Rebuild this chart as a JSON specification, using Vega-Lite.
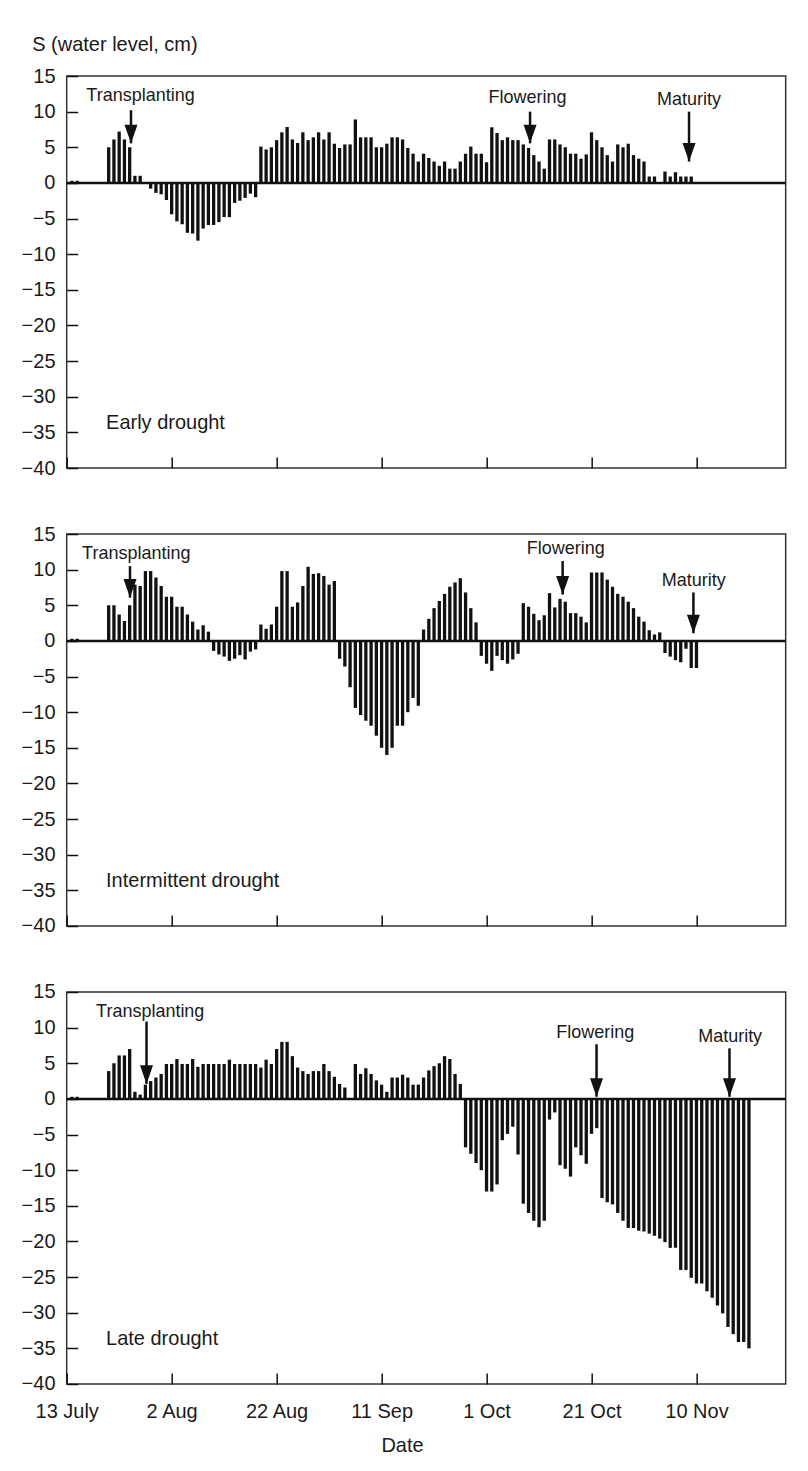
{
  "$schema": "https://vega.github.io/schema/vega-lite/v6.json",
  "background": "white",
  "padding": {"left": 19.7, "top": 33, "right": 10, "bottom": 5},
  "config": {
    "font": "Liberation Sans",
    "view": {"stroke": "#333333", "strokeWidth": 1.5},
    "axis": {
      "domain": false, "grid": false,
      "tickColor": "#111111", "tickWidth": 1.5, "tickSize": -11,
      "labelFont": "Liberation Sans", "labelFontSize": 20, "labelColor": "#1a1a1a",
      "titleFont": "Liberation Sans", "titleFontSize": 20, "titleFontWeight": "normal", "titleColor": "#1a1a1a",
      "labelFlush": false, "labelOverlap": false, "labelSeparation": 0, "labelBound": false
    },
    "axisY": {"labelOverlap": false},
    "axisQuantitative": {"labelOverlap": false, "tickCount": 12},
    "text": {"font": "Liberation Sans", "color": "#1a1a1a"}
  },
  "datasets": {
    "panels": [
      {"panel": "Early drought"},
      {"panel": "Intermittent drought"},
      {"panel": "Late drought"}
    ],
    "events": [
      {"panel": "Early drought", "event": "Transplanting", "arrowDate": "1999-07-25T06:00:00Z", "arrowTop": 10.2, "arrowTip": 5.55, "labelDate": "1999-07-27T01:30:00Z", "labelLevel": 11.5},
      {"panel": "Early drought", "event": "Flowering", "arrowDate": "1999-10-09T07:00:00Z", "arrowTop": 10.0, "arrowTip": 5.55, "labelDate": "1999-10-08T19:00:00Z", "labelLevel": 11.2},
      {"panel": "Early drought", "event": "Maturity", "arrowDate": "1999-11-08T14:00:00Z", "arrowTop": 10.0, "arrowTip": 3.0, "labelDate": "1999-11-08T14:00:00Z", "labelLevel": 10.9},
      {"panel": "Intermittent drought", "event": "Transplanting", "arrowDate": "1999-07-25T01:30:00Z", "arrowTop": 10.5, "arrowTip": 6.07, "labelDate": "1999-07-26T06:00:00Z", "labelLevel": 11.45},
      {"panel": "Intermittent drought", "event": "Flowering", "arrowDate": "1999-10-15T12:00:00Z", "arrowTop": 11.2, "arrowTip": 6.5, "labelDate": "1999-10-16T02:00:00Z", "labelLevel": 12.15},
      {"panel": "Intermittent drought", "event": "Maturity", "arrowDate": "1999-11-09T10:00:00Z", "arrowTop": 6.8, "arrowTip": 1.07, "labelDate": "1999-11-09T12:00:00Z", "labelLevel": 7.7},
      {"panel": "Late drought", "event": "Transplanting", "arrowDate": "1999-07-28T05:00:00Z", "arrowTop": 10.85, "arrowTip": 2.1, "labelDate": "1999-07-28T22:00:00Z", "labelLevel": 11.55},
      {"panel": "Late drought", "event": "Flowering", "arrowDate": "1999-10-21T23:00:00Z", "arrowTop": 7.67, "arrowTip": 0.3, "labelDate": "1999-10-21T17:00:00Z", "labelLevel": 8.6},
      {"panel": "Late drought", "event": "Maturity", "arrowDate": "1999-11-16T07:00:00Z", "arrowTop": 7.1, "arrowTip": 0.3, "labelDate": "1999-11-16T10:00:00Z", "labelLevel": 8.0}
    ],
    "bars": [
      {"panel":"Early drought","date":"1999-07-14","s":0.3},
      {"panel":"Early drought","date":"1999-07-15","s":0.3},
      {"panel":"Early drought","date":"1999-07-21","s":5.0},
      {"panel":"Early drought","date":"1999-07-22","s":6.1},
      {"panel":"Early drought","date":"1999-07-23","s":7.2},
      {"panel":"Early drought","date":"1999-07-24","s":6.1},
      {"panel":"Early drought","date":"1999-07-25","s":5.0},
      {"panel":"Early drought","date":"1999-07-26","s":1.0},
      {"panel":"Early drought","date":"1999-07-27","s":1.0},
      {"panel":"Early drought","date":"1999-07-29","s":-0.8},
      {"panel":"Early drought","date":"1999-07-30","s":-1.4},
      {"panel":"Early drought","date":"1999-07-31","s":-1.6},
      {"panel":"Early drought","date":"1999-08-01","s":-2.4},
      {"panel":"Early drought","date":"1999-08-02","s":-4.4},
      {"panel":"Early drought","date":"1999-08-03","s":-5.4},
      {"panel":"Early drought","date":"1999-08-04","s":-5.8},
      {"panel":"Early drought","date":"1999-08-05","s":-7.0},
      {"panel":"Early drought","date":"1999-08-06","s":-7.1},
      {"panel":"Early drought","date":"1999-08-07","s":-8.1},
      {"panel":"Early drought","date":"1999-08-08","s":-6.4},
      {"panel":"Early drought","date":"1999-08-09","s":-5.9},
      {"panel":"Early drought","date":"1999-08-10","s":-5.9},
      {"panel":"Early drought","date":"1999-08-11","s":-5.5},
      {"panel":"Early drought","date":"1999-08-12","s":-4.8},
      {"panel":"Early drought","date":"1999-08-13","s":-4.8},
      {"panel":"Early drought","date":"1999-08-14","s":-2.8},
      {"panel":"Early drought","date":"1999-08-15","s":-2.5},
      {"panel":"Early drought","date":"1999-08-16","s":-2.1},
      {"panel":"Early drought","date":"1999-08-17","s":-1.5},
      {"panel":"Early drought","date":"1999-08-18","s":-2.0},
      {"panel":"Early drought","date":"1999-08-19","s":5.1},
      {"panel":"Early drought","date":"1999-08-20","s":4.7},
      {"panel":"Early drought","date":"1999-08-21","s":5.0},
      {"panel":"Early drought","date":"1999-08-22","s":6.0},
      {"panel":"Early drought","date":"1999-08-23","s":7.1},
      {"panel":"Early drought","date":"1999-08-24","s":7.85},
      {"panel":"Early drought","date":"1999-08-25","s":6.1},
      {"panel":"Early drought","date":"1999-08-26","s":5.6},
      {"panel":"Early drought","date":"1999-08-27","s":7.1},
      {"panel":"Early drought","date":"1999-08-28","s":6.0},
      {"panel":"Early drought","date":"1999-08-29","s":6.4},
      {"panel":"Early drought","date":"1999-08-30","s":7.1},
      {"panel":"Early drought","date":"1999-08-31","s":6.1},
      {"panel":"Early drought","date":"1999-09-01","s":7.1},
      {"panel":"Early drought","date":"1999-09-02","s":5.5},
      {"panel":"Early drought","date":"1999-09-03","s":4.9},
      {"panel":"Early drought","date":"1999-09-04","s":5.4},
      {"panel":"Early drought","date":"1999-09-05","s":5.4},
      {"panel":"Early drought","date":"1999-09-06","s":8.9},
      {"panel":"Early drought","date":"1999-09-07","s":6.4},
      {"panel":"Early drought","date":"1999-09-08","s":6.4},
      {"panel":"Early drought","date":"1999-09-09","s":6.4},
      {"panel":"Early drought","date":"1999-09-10","s":5.0},
      {"panel":"Early drought","date":"1999-09-11","s":5.0},
      {"panel":"Early drought","date":"1999-09-12","s":5.5},
      {"panel":"Early drought","date":"1999-09-13","s":6.4},
      {"panel":"Early drought","date":"1999-09-14","s":6.4},
      {"panel":"Early drought","date":"1999-09-15","s":6.1},
      {"panel":"Early drought","date":"1999-09-16","s":4.9},
      {"panel":"Early drought","date":"1999-09-17","s":4.1},
      {"panel":"Early drought","date":"1999-09-18","s":3.0},
      {"panel":"Early drought","date":"1999-09-19","s":4.1},
      {"panel":"Early drought","date":"1999-09-20","s":3.5},
      {"panel":"Early drought","date":"1999-09-21","s":3.0},
      {"panel":"Early drought","date":"1999-09-22","s":2.4},
      {"panel":"Early drought","date":"1999-09-23","s":3.0},
      {"panel":"Early drought","date":"1999-09-24","s":2.0},
      {"panel":"Early drought","date":"1999-09-25","s":2.0},
      {"panel":"Early drought","date":"1999-09-26","s":3.0},
      {"panel":"Early drought","date":"1999-09-27","s":4.1},
      {"panel":"Early drought","date":"1999-09-28","s":5.1},
      {"panel":"Early drought","date":"1999-09-29","s":4.1},
      {"panel":"Early drought","date":"1999-09-30","s":4.1},
      {"panel":"Early drought","date":"1999-10-01","s":2.9},
      {"panel":"Early drought","date":"1999-10-02","s":7.8},
      {"panel":"Early drought","date":"1999-10-03","s":7.0},
      {"panel":"Early drought","date":"1999-10-04","s":6.0},
      {"panel":"Early drought","date":"1999-10-05","s":6.4},
      {"panel":"Early drought","date":"1999-10-06","s":6.0},
      {"panel":"Early drought","date":"1999-10-07","s":6.0},
      {"panel":"Early drought","date":"1999-10-08","s":5.4},
      {"panel":"Early drought","date":"1999-10-09","s":4.9},
      {"panel":"Early drought","date":"1999-10-10","s":3.9},
      {"panel":"Early drought","date":"1999-10-11","s":3.0},
      {"panel":"Early drought","date":"1999-10-12","s":2.0},
      {"panel":"Early drought","date":"1999-10-13","s":6.1},
      {"panel":"Early drought","date":"1999-10-14","s":6.1},
      {"panel":"Early drought","date":"1999-10-15","s":5.4},
      {"panel":"Early drought","date":"1999-10-16","s":5.0},
      {"panel":"Early drought","date":"1999-10-17","s":4.1},
      {"panel":"Early drought","date":"1999-10-18","s":4.1},
      {"panel":"Early drought","date":"1999-10-19","s":3.4},
      {"panel":"Early drought","date":"1999-10-20","s":4.0},
      {"panel":"Early drought","date":"1999-10-21","s":7.1},
      {"panel":"Early drought","date":"1999-10-22","s":6.0},
      {"panel":"Early drought","date":"1999-10-23","s":5.0},
      {"panel":"Early drought","date":"1999-10-24","s":3.9},
      {"panel":"Early drought","date":"1999-10-25","s":3.0},
      {"panel":"Early drought","date":"1999-10-26","s":5.4},
      {"panel":"Early drought","date":"1999-10-27","s":5.0},
      {"panel":"Early drought","date":"1999-10-28","s":5.5},
      {"panel":"Early drought","date":"1999-10-29","s":3.9},
      {"panel":"Early drought","date":"1999-10-30","s":3.4},
      {"panel":"Early drought","date":"1999-10-31","s":3.0},
      {"panel":"Early drought","date":"1999-11-01","s":0.9},
      {"panel":"Early drought","date":"1999-11-02","s":0.9},
      {"panel":"Early drought","date":"1999-11-04","s":1.6},
      {"panel":"Early drought","date":"1999-11-05","s":0.9},
      {"panel":"Early drought","date":"1999-11-06","s":1.5},
      {"panel":"Early drought","date":"1999-11-07","s":0.9},
      {"panel":"Early drought","date":"1999-11-08","s":0.9},
      {"panel":"Early drought","date":"1999-11-09","s":0.9},

      {"panel":"Intermittent drought","date":"1999-07-14","s":0.3},
      {"panel":"Intermittent drought","date":"1999-07-15","s":0.3},
      {"panel":"Intermittent drought","date":"1999-07-21","s":5.0},
      {"panel":"Intermittent drought","date":"1999-07-22","s":5.0},
      {"panel":"Intermittent drought","date":"1999-07-23","s":3.7},
      {"panel":"Intermittent drought","date":"1999-07-24","s":2.8},
      {"panel":"Intermittent drought","date":"1999-07-25","s":5.0},
      {"panel":"Intermittent drought","date":"1999-07-26","s":7.9},
      {"panel":"Intermittent drought","date":"1999-07-27","s":7.7},
      {"panel":"Intermittent drought","date":"1999-07-28","s":9.8},
      {"panel":"Intermittent drought","date":"1999-07-29","s":9.8},
      {"panel":"Intermittent drought","date":"1999-07-30","s":8.9},
      {"panel":"Intermittent drought","date":"1999-07-31","s":7.7},
      {"panel":"Intermittent drought","date":"1999-08-01","s":6.2},
      {"panel":"Intermittent drought","date":"1999-08-02","s":6.2},
      {"panel":"Intermittent drought","date":"1999-08-03","s":4.8},
      {"panel":"Intermittent drought","date":"1999-08-04","s":4.8},
      {"panel":"Intermittent drought","date":"1999-08-05","s":3.7},
      {"panel":"Intermittent drought","date":"1999-08-06","s":2.7},
      {"panel":"Intermittent drought","date":"1999-08-07","s":1.6},
      {"panel":"Intermittent drought","date":"1999-08-08","s":2.2},
      {"panel":"Intermittent drought","date":"1999-08-09","s":1.3},
      {"panel":"Intermittent drought","date":"1999-08-10","s":-1.4},
      {"panel":"Intermittent drought","date":"1999-08-11","s":-1.9},
      {"panel":"Intermittent drought","date":"1999-08-12","s":-2.2},
      {"panel":"Intermittent drought","date":"1999-08-13","s":-2.8},
      {"panel":"Intermittent drought","date":"1999-08-14","s":-2.5},
      {"panel":"Intermittent drought","date":"1999-08-15","s":-2.0},
      {"panel":"Intermittent drought","date":"1999-08-16","s":-2.6},
      {"panel":"Intermittent drought","date":"1999-08-17","s":-1.5},
      {"panel":"Intermittent drought","date":"1999-08-18","s":-1.2},
      {"panel":"Intermittent drought","date":"1999-08-19","s":2.3},
      {"panel":"Intermittent drought","date":"1999-08-20","s":1.7},
      {"panel":"Intermittent drought","date":"1999-08-21","s":2.3},
      {"panel":"Intermittent drought","date":"1999-08-22","s":4.8},
      {"panel":"Intermittent drought","date":"1999-08-23","s":9.8},
      {"panel":"Intermittent drought","date":"1999-08-24","s":9.8},
      {"panel":"Intermittent drought","date":"1999-08-25","s":4.8},
      {"panel":"Intermittent drought","date":"1999-08-26","s":5.4},
      {"panel":"Intermittent drought","date":"1999-08-27","s":7.7},
      {"panel":"Intermittent drought","date":"1999-08-28","s":10.4},
      {"panel":"Intermittent drought","date":"1999-08-29","s":9.4},
      {"panel":"Intermittent drought","date":"1999-08-30","s":9.5},
      {"panel":"Intermittent drought","date":"1999-08-31","s":9.1},
      {"panel":"Intermittent drought","date":"1999-09-01","s":7.9},
      {"panel":"Intermittent drought","date":"1999-09-02","s":8.4},
      {"panel":"Intermittent drought","date":"1999-09-03","s":-2.5},
      {"panel":"Intermittent drought","date":"1999-09-04","s":-3.6},
      {"panel":"Intermittent drought","date":"1999-09-05","s":-6.5},
      {"panel":"Intermittent drought","date":"1999-09-06","s":-9.4},
      {"panel":"Intermittent drought","date":"1999-09-07","s":-10.4},
      {"panel":"Intermittent drought","date":"1999-09-08","s":-11.2},
      {"panel":"Intermittent drought","date":"1999-09-09","s":-11.9},
      {"panel":"Intermittent drought","date":"1999-09-10","s":-13.3},
      {"panel":"Intermittent drought","date":"1999-09-11","s":-15.0},
      {"panel":"Intermittent drought","date":"1999-09-12","s":-16.0},
      {"panel":"Intermittent drought","date":"1999-09-13","s":-15.0},
      {"panel":"Intermittent drought","date":"1999-09-14","s":-11.9},
      {"panel":"Intermittent drought","date":"1999-09-15","s":-11.9},
      {"panel":"Intermittent drought","date":"1999-09-16","s":-10.0},
      {"panel":"Intermittent drought","date":"1999-09-17","s":-8.0},
      {"panel":"Intermittent drought","date":"1999-09-18","s":-9.1},
      {"panel":"Intermittent drought","date":"1999-09-19","s":1.6},
      {"panel":"Intermittent drought","date":"1999-09-20","s":3.1},
      {"panel":"Intermittent drought","date":"1999-09-21","s":4.6},
      {"panel":"Intermittent drought","date":"1999-09-22","s":5.6},
      {"panel":"Intermittent drought","date":"1999-09-23","s":6.6},
      {"panel":"Intermittent drought","date":"1999-09-24","s":7.6},
      {"panel":"Intermittent drought","date":"1999-09-25","s":8.2},
      {"panel":"Intermittent drought","date":"1999-09-26","s":8.8},
      {"panel":"Intermittent drought","date":"1999-09-27","s":6.8},
      {"panel":"Intermittent drought","date":"1999-09-28","s":4.6},
      {"panel":"Intermittent drought","date":"1999-09-29","s":2.6},
      {"panel":"Intermittent drought","date":"1999-09-30","s":-2.1},
      {"panel":"Intermittent drought","date":"1999-10-01","s":-3.2},
      {"panel":"Intermittent drought","date":"1999-10-02","s":-4.2},
      {"panel":"Intermittent drought","date":"1999-10-03","s":-2.1},
      {"panel":"Intermittent drought","date":"1999-10-04","s":-2.7},
      {"panel":"Intermittent drought","date":"1999-10-05","s":-3.2},
      {"panel":"Intermittent drought","date":"1999-10-06","s":-2.6},
      {"panel":"Intermittent drought","date":"1999-10-07","s":-1.8},
      {"panel":"Intermittent drought","date":"1999-10-08","s":5.3},
      {"panel":"Intermittent drought","date":"1999-10-09","s":4.8},
      {"panel":"Intermittent drought","date":"1999-10-10","s":3.8},
      {"panel":"Intermittent drought","date":"1999-10-11","s":2.9},
      {"panel":"Intermittent drought","date":"1999-10-12","s":3.6},
      {"panel":"Intermittent drought","date":"1999-10-13","s":6.7},
      {"panel":"Intermittent drought","date":"1999-10-14","s":4.7},
      {"panel":"Intermittent drought","date":"1999-10-15","s":5.9},
      {"panel":"Intermittent drought","date":"1999-10-16","s":5.5},
      {"panel":"Intermittent drought","date":"1999-10-17","s":3.9},
      {"panel":"Intermittent drought","date":"1999-10-18","s":3.9},
      {"panel":"Intermittent drought","date":"1999-10-19","s":3.4},
      {"panel":"Intermittent drought","date":"1999-10-20","s":2.6},
      {"panel":"Intermittent drought","date":"1999-10-21","s":9.6},
      {"panel":"Intermittent drought","date":"1999-10-22","s":9.6},
      {"panel":"Intermittent drought","date":"1999-10-23","s":9.6},
      {"panel":"Intermittent drought","date":"1999-10-24","s":8.6},
      {"panel":"Intermittent drought","date":"1999-10-25","s":7.6},
      {"panel":"Intermittent drought","date":"1999-10-26","s":6.6},
      {"panel":"Intermittent drought","date":"1999-10-27","s":6.2},
      {"panel":"Intermittent drought","date":"1999-10-28","s":5.5},
      {"panel":"Intermittent drought","date":"1999-10-29","s":4.6},
      {"panel":"Intermittent drought","date":"1999-10-30","s":3.4},
      {"panel":"Intermittent drought","date":"1999-10-31","s":2.7},
      {"panel":"Intermittent drought","date":"1999-11-01","s":1.5},
      {"panel":"Intermittent drought","date":"1999-11-02","s":0.9},
      {"panel":"Intermittent drought","date":"1999-11-03","s":1.2},
      {"panel":"Intermittent drought","date":"1999-11-04","s":-1.7},
      {"panel":"Intermittent drought","date":"1999-11-05","s":-2.2},
      {"panel":"Intermittent drought","date":"1999-11-06","s":-2.7},
      {"panel":"Intermittent drought","date":"1999-11-07","s":-3.0},
      {"panel":"Intermittent drought","date":"1999-11-08","s":-1.1},
      {"panel":"Intermittent drought","date":"1999-11-09","s":-3.8},
      {"panel":"Intermittent drought","date":"1999-11-10","s":-3.8},

      {"panel":"Late drought","date":"1999-07-14","s":0.3},
      {"panel":"Late drought","date":"1999-07-15","s":0.3},
      {"panel":"Late drought","date":"1999-07-21","s":3.9},
      {"panel":"Late drought","date":"1999-07-22","s":5.0},
      {"panel":"Late drought","date":"1999-07-23","s":6.1},
      {"panel":"Late drought","date":"1999-07-24","s":6.1},
      {"panel":"Late drought","date":"1999-07-25","s":7.0},
      {"panel":"Late drought","date":"1999-07-26","s":1.0},
      {"panel":"Late drought","date":"1999-07-27","s":0.6},
      {"panel":"Late drought","date":"1999-07-28","s":2.0},
      {"panel":"Late drought","date":"1999-07-29","s":2.5},
      {"panel":"Late drought","date":"1999-07-30","s":3.0},
      {"panel":"Late drought","date":"1999-07-31","s":3.5},
      {"panel":"Late drought","date":"1999-08-01","s":4.9},
      {"panel":"Late drought","date":"1999-08-02","s":4.9},
      {"panel":"Late drought","date":"1999-08-03","s":5.6},
      {"panel":"Late drought","date":"1999-08-04","s":4.9},
      {"panel":"Late drought","date":"1999-08-05","s":4.9},
      {"panel":"Late drought","date":"1999-08-06","s":5.6},
      {"panel":"Late drought","date":"1999-08-07","s":4.5},
      {"panel":"Late drought","date":"1999-08-08","s":4.9},
      {"panel":"Late drought","date":"1999-08-09","s":4.9},
      {"panel":"Late drought","date":"1999-08-10","s":4.9},
      {"panel":"Late drought","date":"1999-08-11","s":4.9},
      {"panel":"Late drought","date":"1999-08-12","s":4.9},
      {"panel":"Late drought","date":"1999-08-13","s":5.5},
      {"panel":"Late drought","date":"1999-08-14","s":4.9},
      {"panel":"Late drought","date":"1999-08-15","s":4.9},
      {"panel":"Late drought","date":"1999-08-16","s":4.9},
      {"panel":"Late drought","date":"1999-08-17","s":4.9},
      {"panel":"Late drought","date":"1999-08-18","s":4.9},
      {"panel":"Late drought","date":"1999-08-19","s":4.4},
      {"panel":"Late drought","date":"1999-08-20","s":5.5},
      {"panel":"Late drought","date":"1999-08-21","s":4.9},
      {"panel":"Late drought","date":"1999-08-22","s":7.0},
      {"panel":"Late drought","date":"1999-08-23","s":8.0},
      {"panel":"Late drought","date":"1999-08-24","s":8.0},
      {"panel":"Late drought","date":"1999-08-25","s":6.0},
      {"panel":"Late drought","date":"1999-08-26","s":4.4},
      {"panel":"Late drought","date":"1999-08-27","s":3.9},
      {"panel":"Late drought","date":"1999-08-28","s":3.5},
      {"panel":"Late drought","date":"1999-08-29","s":3.9},
      {"panel":"Late drought","date":"1999-08-30","s":3.9},
      {"panel":"Late drought","date":"1999-08-31","s":4.9},
      {"panel":"Late drought","date":"1999-09-01","s":3.9},
      {"panel":"Late drought","date":"1999-09-02","s":3.1},
      {"panel":"Late drought","date":"1999-09-03","s":2.1},
      {"panel":"Late drought","date":"1999-09-04","s":1.6},
      {"panel":"Late drought","date":"1999-09-06","s":4.9},
      {"panel":"Late drought","date":"1999-09-07","s":3.5},
      {"panel":"Late drought","date":"1999-09-08","s":4.3},
      {"panel":"Late drought","date":"1999-09-09","s":3.5},
      {"panel":"Late drought","date":"1999-09-10","s":2.6},
      {"panel":"Late drought","date":"1999-09-11","s":2.0},
      {"panel":"Late drought","date":"1999-09-12","s":1.0},
      {"panel":"Late drought","date":"1999-09-13","s":3.0},
      {"panel":"Late drought","date":"1999-09-14","s":3.0},
      {"panel":"Late drought","date":"1999-09-15","s":3.4},
      {"panel":"Late drought","date":"1999-09-16","s":3.0},
      {"panel":"Late drought","date":"1999-09-17","s":2.0},
      {"panel":"Late drought","date":"1999-09-18","s":2.0},
      {"panel":"Late drought","date":"1999-09-19","s":3.0},
      {"panel":"Late drought","date":"1999-09-20","s":4.0},
      {"panel":"Late drought","date":"1999-09-21","s":4.6},
      {"panel":"Late drought","date":"1999-09-22","s":5.0},
      {"panel":"Late drought","date":"1999-09-23","s":6.0},
      {"panel":"Late drought","date":"1999-09-24","s":5.6},
      {"panel":"Late drought","date":"1999-09-25","s":3.5},
      {"panel":"Late drought","date":"1999-09-26","s":2.1},
      {"panel":"Late drought","date":"1999-09-27","s":-6.8},
      {"panel":"Late drought","date":"1999-09-28","s":-7.7},
      {"panel":"Late drought","date":"1999-09-29","s":-9.0},
      {"panel":"Late drought","date":"1999-09-30","s":-10.0},
      {"panel":"Late drought","date":"1999-10-01","s":-13.0},
      {"panel":"Late drought","date":"1999-10-02","s":-13.0},
      {"panel":"Late drought","date":"1999-10-03","s":-12.0},
      {"panel":"Late drought","date":"1999-10-04","s":-5.8},
      {"panel":"Late drought","date":"1999-10-05","s":-4.9},
      {"panel":"Late drought","date":"1999-10-06","s":-3.9},
      {"panel":"Late drought","date":"1999-10-07","s":-7.8},
      {"panel":"Late drought","date":"1999-10-08","s":-14.7},
      {"panel":"Late drought","date":"1999-10-09","s":-16.0},
      {"panel":"Late drought","date":"1999-10-10","s":-17.1},
      {"panel":"Late drought","date":"1999-10-11","s":-18.0},
      {"panel":"Late drought","date":"1999-10-12","s":-17.1},
      {"panel":"Late drought","date":"1999-10-13","s":-2.9},
      {"panel":"Late drought","date":"1999-10-14","s":-1.9},
      {"panel":"Late drought","date":"1999-10-15","s":-9.3},
      {"panel":"Late drought","date":"1999-10-16","s":-9.8},
      {"panel":"Late drought","date":"1999-10-17","s":-10.9},
      {"panel":"Late drought","date":"1999-10-18","s":-6.8},
      {"panel":"Late drought","date":"1999-10-19","s":-7.9},
      {"panel":"Late drought","date":"1999-10-20","s":-9.1},
      {"panel":"Late drought","date":"1999-10-21","s":-4.9},
      {"panel":"Late drought","date":"1999-10-22","s":-4.1},
      {"panel":"Late drought","date":"1999-10-23","s":-13.9},
      {"panel":"Late drought","date":"1999-10-24","s":-14.5},
      {"panel":"Late drought","date":"1999-10-25","s":-14.8},
      {"panel":"Late drought","date":"1999-10-26","s":-16.0},
      {"panel":"Late drought","date":"1999-10-27","s":-17.1},
      {"panel":"Late drought","date":"1999-10-28","s":-18.1},
      {"panel":"Late drought","date":"1999-10-29","s":-18.1},
      {"panel":"Late drought","date":"1999-10-30","s":-18.5},
      {"panel":"Late drought","date":"1999-10-31","s":-18.6},
      {"panel":"Late drought","date":"1999-11-01","s":-18.9},
      {"panel":"Late drought","date":"1999-11-02","s":-19.2},
      {"panel":"Late drought","date":"1999-11-03","s":-19.6},
      {"panel":"Late drought","date":"1999-11-04","s":-20.1},
      {"panel":"Late drought","date":"1999-11-05","s":-20.9},
      {"panel":"Late drought","date":"1999-11-06","s":-20.9},
      {"panel":"Late drought","date":"1999-11-07","s":-24.0},
      {"panel":"Late drought","date":"1999-11-08","s":-24.0},
      {"panel":"Late drought","date":"1999-11-09","s":-25.1},
      {"panel":"Late drought","date":"1999-11-10","s":-25.9},
      {"panel":"Late drought","date":"1999-11-11","s":-25.9},
      {"panel":"Late drought","date":"1999-11-12","s":-27.0},
      {"panel":"Late drought","date":"1999-11-13","s":-27.9},
      {"panel":"Late drought","date":"1999-11-14","s":-29.0},
      {"panel":"Late drought","date":"1999-11-15","s":-30.1},
      {"panel":"Late drought","date":"1999-11-16","s":-32.0},
      {"panel":"Late drought","date":"1999-11-17","s":-33.0},
      {"panel":"Late drought","date":"1999-11-18","s":-34.1},
      {"panel":"Late drought","date":"1999-11-19","s":-34.1},
      {"panel":"Late drought","date":"1999-11-20","s":-35.0}
    ]
  },
  "bounds": "flush",
  "spacing": 66,
  "vconcat": [
    {
      "width": 719, "height": 392,
      "layer": [
        {
          "data": {"name": "bars"},
          "transform": [{"filter": "datum.panel === 'Early drought'"}],
          "mark": {"type": "bar", "width": 3.3, "color": "#111111", "orient": "vertical"},
          "encoding": {
            "x": {"field": "date", "type": "temporal",
              "scale": {"type": "utc", "nice": false, "padding": 0, "domain": [{"year": 1999, "month": 7, "date": 13, "utc": true}, {"year": 1999, "month": 11, "date": 27, "utc": true}]},
              "axis": {"values": [{"year": 1999, "month": 7, "date": 13, "utc": true}, {"year": 1999, "month": 8, "date": 2, "utc": true}, {"year": 1999, "month": 8, "date": 22, "utc": true}, {"year": 1999, "month": 9, "date": 11, "utc": true}, {"year": 1999, "month": 10, "date": 1, "utc": true}, {"year": 1999, "month": 10, "date": 21, "utc": true}, {"year": 1999, "month": 11, "date": 10, "utc": true}],
                "labels": false, "title": null}},
            "y": {"field": "s", "type": "quantitative",
              "scale": {"domain": [-40, 15], "nice": false, "zero": false, "padding": 0},
              "axis": {"values": [-40, -35, -30, -25, -20, -15, -10, -5, 0, 5, 10, 15], "tickCount": 12, "format": "d", "labelPadding": 22.7, "labelOverlap": false,
                "title": "S (water level, cm)", "titleAngle": 0, "titleAlign": "left", "titleBaseline": "alphabetic", "titleX": -35, "titleY": -25.3}}
          }
        },
        {
          "data": {"name": "panels"},
          "transform": [{"filter": "datum.panel === 'Early drought'"}],
          "mark": {"type": "rule", "color": "#111111", "strokeWidth": 2.5},
          "encoding": {"y": {"datum": 0, "type": "quantitative"}}
        },
        {
          "data": {"name": "events"},
          "transform": [{"filter": "datum.panel === 'Early drought'"}],
          "mark": {"type": "rule", "color": "#111111", "strokeWidth": 2.5},
          "encoding": {
            "x": {"field": "arrowDate", "type": "temporal"},
            "y": {"field": "arrowTop", "type": "quantitative"},
            "y2": {"field": "arrowTip"}
          }
        },
        {
          "data": {"name": "events"},
          "transform": [{"filter": "datum.panel === 'Early drought'"}],
          "mark": {"type": "point", "shape": "M-0.7,-2L0.7,-2L0,0Z", "size": 345, "filled": true, "opacity": 1, "color": "#111111", "strokeWidth": 0},
          "encoding": {
            "x": {"field": "arrowDate", "type": "temporal"},
            "y": {"field": "arrowTip", "type": "quantitative"}
          }
        },
        {
          "data": {"name": "events"},
          "transform": [{"filter": "datum.panel === 'Early drought'"}],
          "mark": {"type": "text", "fontSize": 18, "align": "center", "baseline": "alphabetic"},
          "encoding": {
            "x": {"field": "labelDate", "type": "temporal"},
            "y": {"field": "labelLevel", "type": "quantitative"},
            "text": {"field": "event"}
          }
        },
        {
          "data": {"name": "panels"},
          "transform": [{"filter": "datum.panel === 'Early drought'"}],
          "mark": {"type": "text", "fontSize": 20, "align": "left", "baseline": "alphabetic"},
          "encoding": {
            "x": {"datum": {"year": 1999, "month": 7, "date": 20, "hours": 12, "utc": true}, "type": "temporal"},
            "y": {"datum": -34.5, "type": "quantitative"},
            "text": {"field": "panel"}
          }
        }
      ]
    },
    {
      "width": 719, "height": 392,
      "layer": [
        {
          "data": {"name": "bars"},
          "transform": [{"filter": "datum.panel === 'Intermittent drought'"}],
          "mark": {"type": "bar", "width": 3.3, "color": "#111111", "orient": "vertical"},
          "encoding": {
            "x": {"field": "date", "type": "temporal",
              "scale": {"type": "utc", "nice": false, "padding": 0, "domain": [{"year": 1999, "month": 7, "date": 13, "utc": true}, {"year": 1999, "month": 11, "date": 27, "utc": true}]},
              "axis": {"values": [{"year": 1999, "month": 7, "date": 13, "utc": true}, {"year": 1999, "month": 8, "date": 2, "utc": true}, {"year": 1999, "month": 8, "date": 22, "utc": true}, {"year": 1999, "month": 9, "date": 11, "utc": true}, {"year": 1999, "month": 10, "date": 1, "utc": true}, {"year": 1999, "month": 10, "date": 21, "utc": true}, {"year": 1999, "month": 11, "date": 10, "utc": true}],
                "labels": false, "title": null}},
            "y": {"field": "s", "type": "quantitative",
              "scale": {"domain": [-40, 15], "nice": false, "zero": false, "padding": 0},
              "axis": {"values": [-40, -35, -30, -25, -20, -15, -10, -5, 0, 5, 10, 15], "tickCount": 12, "format": "d", "labelPadding": 22.7, "labelOverlap": false, "title": null}}
          }
        },
        {
          "data": {"name": "panels"},
          "transform": [{"filter": "datum.panel === 'Intermittent drought'"}],
          "mark": {"type": "rule", "color": "#111111", "strokeWidth": 2.5},
          "encoding": {"y": {"datum": 0, "type": "quantitative"}}
        },
        {
          "data": {"name": "events"},
          "transform": [{"filter": "datum.panel === 'Intermittent drought'"}],
          "mark": {"type": "rule", "color": "#111111", "strokeWidth": 2.5},
          "encoding": {
            "x": {"field": "arrowDate", "type": "temporal"},
            "y": {"field": "arrowTop", "type": "quantitative"},
            "y2": {"field": "arrowTip"}
          }
        },
        {
          "data": {"name": "events"},
          "transform": [{"filter": "datum.panel === 'Intermittent drought'"}],
          "mark": {"type": "point", "shape": "M-0.7,-2L0.7,-2L0,0Z", "size": 345, "filled": true, "opacity": 1, "color": "#111111", "strokeWidth": 0},
          "encoding": {
            "x": {"field": "arrowDate", "type": "temporal"},
            "y": {"field": "arrowTip", "type": "quantitative"}
          }
        },
        {
          "data": {"name": "events"},
          "transform": [{"filter": "datum.panel === 'Intermittent drought'"}],
          "mark": {"type": "text", "fontSize": 18, "align": "center", "baseline": "alphabetic"},
          "encoding": {
            "x": {"field": "labelDate", "type": "temporal"},
            "y": {"field": "labelLevel", "type": "quantitative"},
            "text": {"field": "event"}
          }
        },
        {
          "data": {"name": "panels"},
          "transform": [{"filter": "datum.panel === 'Intermittent drought'"}],
          "mark": {"type": "text", "fontSize": 20, "align": "left", "baseline": "alphabetic"},
          "encoding": {
            "x": {"datum": {"year": 1999, "month": 7, "date": 20, "hours": 12, "utc": true}, "type": "temporal"},
            "y": {"datum": -34.5, "type": "quantitative"},
            "text": {"field": "panel"}
          }
        }
      ]
    },
    {
      "width": 719, "height": 392,
      "layer": [
        {
          "data": {"name": "bars"},
          "transform": [{"filter": "datum.panel === 'Late drought'"}],
          "mark": {"type": "bar", "width": 3.3, "color": "#111111", "orient": "vertical"},
          "encoding": {
            "x": {"field": "date", "type": "temporal",
              "scale": {"type": "utc", "nice": false, "padding": 0, "domain": [{"year": 1999, "month": 7, "date": 13, "utc": true}, {"year": 1999, "month": 11, "date": 27, "utc": true}]},
              "axis": {"values": [{"year": 1999, "month": 7, "date": 13, "utc": true}, {"year": 1999, "month": 8, "date": 2, "utc": true}, {"year": 1999, "month": 8, "date": 22, "utc": true}, {"year": 1999, "month": 9, "date": 11, "utc": true}, {"year": 1999, "month": 10, "date": 1, "utc": true}, {"year": 1999, "month": 10, "date": 21, "utc": true}, {"year": 1999, "month": 11, "date": 10, "utc": true}],
                "labelExpr": "replace(utcFormat(datum.value, '%-d %b'), 'Jul', 'July')",
                "labelPadding": 28.3, "labelAlign": "center", "labelOverlap": false,
                "title": "Date", "titleX": 335.3, "titleY": 67.7, "titleAlign": "center", "titleBaseline": "alphabetic"}},
            "y": {"field": "s", "type": "quantitative",
              "scale": {"domain": [-40, 15], "nice": false, "zero": false, "padding": 0},
              "axis": {"values": [-40, -35, -30, -25, -20, -15, -10, -5, 0, 5, 10, 15], "tickCount": 12, "format": "d", "labelPadding": 22.7, "labelOverlap": false, "title": null}}
          }
        },
        {
          "data": {"name": "panels"},
          "transform": [{"filter": "datum.panel === 'Late drought'"}],
          "mark": {"type": "rule", "color": "#111111", "strokeWidth": 2.5},
          "encoding": {"y": {"datum": 0, "type": "quantitative"}}
        },
        {
          "data": {"name": "events"},
          "transform": [{"filter": "datum.panel === 'Late drought'"}],
          "mark": {"type": "rule", "color": "#111111", "strokeWidth": 2.5},
          "encoding": {
            "x": {"field": "arrowDate", "type": "temporal"},
            "y": {"field": "arrowTop", "type": "quantitative"},
            "y2": {"field": "arrowTip"}
          }
        },
        {
          "data": {"name": "events"},
          "transform": [{"filter": "datum.panel === 'Late drought'"}],
          "mark": {"type": "point", "shape": "M-0.7,-2L0.7,-2L0,0Z", "size": 345, "filled": true, "opacity": 1, "color": "#111111", "strokeWidth": 0},
          "encoding": {
            "x": {"field": "arrowDate", "type": "temporal"},
            "y": {"field": "arrowTip", "type": "quantitative"}
          }
        },
        {
          "data": {"name": "events"},
          "transform": [{"filter": "datum.panel === 'Late drought'"}],
          "mark": {"type": "text", "fontSize": 18, "align": "center", "baseline": "alphabetic"},
          "encoding": {
            "x": {"field": "labelDate", "type": "temporal"},
            "y": {"field": "labelLevel", "type": "quantitative"},
            "text": {"field": "event"}
          }
        },
        {
          "data": {"name": "panels"},
          "transform": [{"filter": "datum.panel === 'Late drought'"}],
          "mark": {"type": "text", "fontSize": 20, "align": "left", "baseline": "alphabetic"},
          "encoding": {
            "x": {"datum": {"year": 1999, "month": 7, "date": 20, "hours": 12, "utc": true}, "type": "temporal"},
            "y": {"datum": -34.5, "type": "quantitative"},
            "text": {"field": "panel"}
          }
        }
      ]
    }
  ]
}
